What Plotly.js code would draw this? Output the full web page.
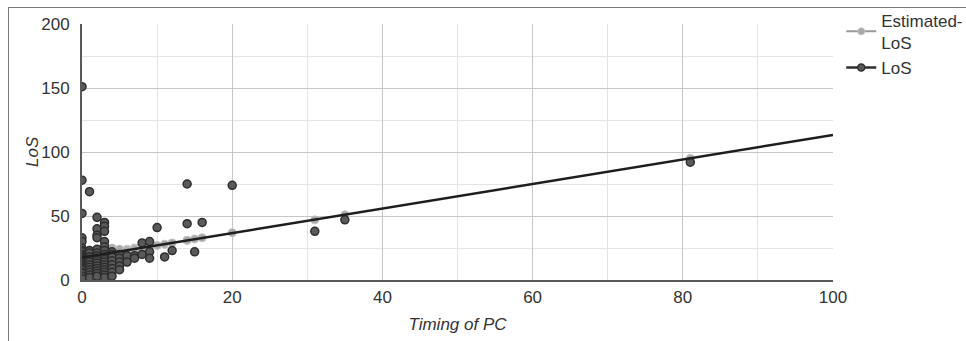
<!DOCTYPE html>
<html>
<head>
<meta charset="utf-8">
<script src="https://cdn.plot.ly/plotly-3.0.1.min.js"></script>
<style>
  html, body { margin: 0; padding: 0; background: #fff; overflow: hidden; }
  #chart { width: 966px; height: 341px; position: absolute; left: 0; top: 0; }
  #frame { position: absolute; left: 8px; top: 7px; width: 1200px; height: 600px;
           border-left: 1px solid #7a7a7a; border-top: 1px solid #7a7a7a; pointer-events: none; }
</style>
</head>
<body>
<div id="chart"></div>
<div id="frame"></div>
<script>
// ---- data ----
const timing = [
  0,0,0,0,0,0,0,0,0,0,0,0,0,0,0,0,0,0,0,0,0,0,0,0,0,
  1,1,1,1,1,1,1,1,1,1,1,1,
  2,2,2,2,2,2,2,2,2,2,2,2,2,2,2,
  3,3,3,3,3,3,3,3,3,3,3,3,3,3,3,3,
  4,4,4,4,4,4,4,4,
  5,5,5,5,5,
  6,6,7,7,8,8,9,9,9,10,11,12,14,14,15,16,20,31,35,81
];
const los = [
  151,78,52,33,30,25,23,22,20,19,18,17,16,15,14,13,12,11,10,9,8,6,5,3,1,
  69,23,21,18,16,14,12,10,8,6,4,2,
  49,40,35,33,24,21,19,17,15,13,11,9,7,5,3,
  45,42,38,30,26,23,20,18,16,14,12,10,8,6,4,2,
  22,20,18,15,12,9,6,3,
  20,17,14,11,8,
  19,14,19,17,29,20,30,22,17,41,18,23,44,75,22,45,74,38,47,92
];
const estimatedLoS = [
  19,23,22,21,18,17,16,20,15,19,21,14,18,13,17,20,16,19,15,18,14,17,13,16,18,
  23,20,17,21,16,19,15,18,16,20,17,20,
  24,22,20,23,18,21,16,19,22,15,20,17,14,18,21,
  25,23,21,24,19,22,17,20,23,16,21,18,15,19,22,20,
  24,21,25,19,23,20,17,22,
  24,23,21,24,20,
  24,23,25,24,26,25,26,27,25,27,28,29,31,31,32,33,37,47,51,95
];
const seriesNames = ['Estimated-<br>LoS', 'LoS'];
const xTitle = 'Timing of PC';
const yTitle = 'LoS';
const xRange = [0, 100];
const yRange = [0, 200];
const xTicks = [0, 20, 40, 60, 80, 100];
const yTicks = [0, 50, 100, 150, 200];

// least-squares trend of the estimated series, drawn across the x range
function fit(xs, ys) {
  const n = xs.length;
  let sx = 0, sy = 0, sxx = 0, sxy = 0;
  for (let i = 0; i < n; i++) { sx += xs[i]; sy += ys[i]; sxx += xs[i]*xs[i]; sxy += xs[i]*ys[i]; }
  const b = (n*sxy - sx*sy) / (n*sxx - sx*sx);
  const a = (sy - b*sx) / n;
  return [a, b];
}
const [ia, sb] = fit(timing, estimatedLoS);
const trendX = xRange.slice();
const trendY = trendX.map(v => ia + sb*v);

const estColor = '#a9a9a9', estLine = '#c2c2c2';
const losColor = '#5a5a5a', losLine = '#2e2e2e';

const traces = [
  { type: 'scatter', mode: 'markers', x: timing, y: estimatedLoS, showlegend: false, hoverinfo: 'skip',
    marker: { size: 8, color: estColor, line: { color: estLine, width: 1 } } },
  { type: 'scatter', mode: 'markers', x: timing, y: los, showlegend: false, hoverinfo: 'skip',
    marker: { size: 8, color: losColor, line: { color: losLine, width: 1.5 } } },
  { type: 'scatter', mode: 'lines', x: trendX, y: trendY, showlegend: false, hoverinfo: 'skip',
    line: { color: '#1e1e1e', width: 2.5 } },
  // legend entries
  { type: 'scatter', mode: 'lines+markers', x: [null], y: [null], name: seriesNames[0],
    line: { color: '#9a9a9a', width: 2 }, marker: { size: 7, color: estColor, line: { color: estLine, width: 1 } } },
  { type: 'scatter', mode: 'lines+markers', x: [null], y: [null], name: seriesNames[1],
    line: { color: '#2e2e2e', width: 2.5 }, marker: { size: 7, color: losColor, line: { color: losLine, width: 1.5 } } }
];

const font = { family: 'Liberation Sans, Arial, sans-serif', size: 17, color: '#333' };
const titleFont = { family: font.family, size: 17, color: '#333', style: 'italic' };

const layout = {
  width: 966, height: 341,
  margin: { l: 82, r: 133, t: 24, b: 61, pad: 0, autoexpand: false },
  paper_bgcolor: '#fff', plot_bgcolor: '#fff',
  font: font,
  showlegend: true,
  legend: { x: 1.011, y: 1.083, xanchor: 'left', yanchor: 'top', font: font,
            bgcolor: 'rgba(0,0,0,0)', itemwidth: 30, tracegroupgap: 0 },
  xaxis: {
    range: xRange, tickvals: xTicks, showgrid: true, gridcolor: '#c6c6c6', gridwidth: 1,
    minor: { dtick: 10, showgrid: true, gridcolor: '#e4e4e4', gridwidth: 1 },
    zeroline: false, showline: true, linecolor: '#5a5a5a', linewidth: 2,
    ticks: 'outside', ticklen: 1, tickcolor: 'rgba(0,0,0,0)',
    tickfont: font, fixedrange: true,
    title: { text: xTitle, font: titleFont, standoff: 12 }
  },
  yaxis: {
    range: yRange, tickvals: yTicks, showgrid: true, gridcolor: '#c6c6c6', gridwidth: 1,
    minor: { dtick: 25, showgrid: true, gridcolor: '#e4e4e4', gridwidth: 1 },
    zeroline: false, showline: true, linecolor: '#5a5a5a', linewidth: 2,
    ticks: 'outside', ticklen: 7, tickcolor: 'rgba(0,0,0,0)',
    tickfont: font, fixedrange: true
  },
  annotations: [
    { text: yTitle, xref: 'paper', yref: 'paper', x: 0, y: 0.5, xanchor: 'center', yanchor: 'middle',
      xshift: -50, textangle: -90, showarrow: false, font: titleFont }
  ]
};

Plotly.newPlot('chart', traces, layout, { staticPlot: true, displayModeBar: false });
</script>
</body>
</html>
